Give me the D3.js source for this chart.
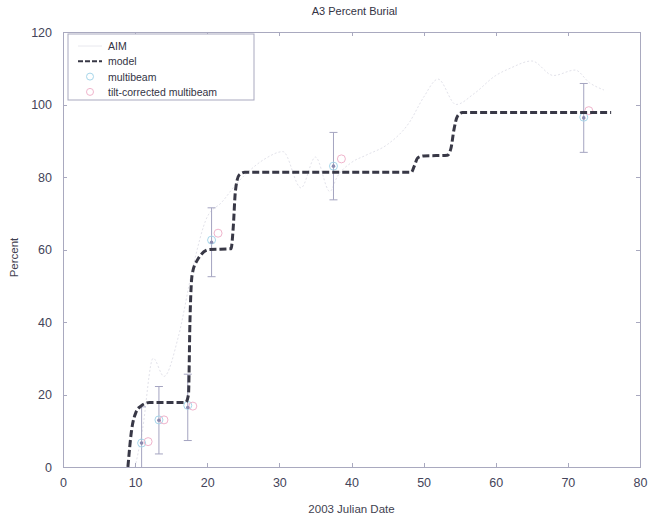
<!DOCTYPE html>
<html lang="en">
<head>
    <meta charset="UTF-8">
    <title>A3 Percent Burial</title>
    <script src="https://d3js.org/d3.v7.min.js"></script>
    <style>
        *{ margin: 0; padding: 0; }
        body{ background: #fff; }
        .axis path, .axis line{
            fill: none;
            stroke: #a9a9bf;
            shape-rendering: crispEdges;
        }
        .axis text{
            font-family: "Liberation Sans", Arial, sans-serif;
            font-size: 12.5px;
            fill: #44445a;
        }
    </style>
</head>
<body>
    <div id="content"></div>
    <script>
        // model curve (dashed)
        var modelX = [9, 9.5, 10.1, 10.8, 12, 17, 17.4, 17.6, 17.9, 18.6, 20.3, 23.3, 23.6, 23.9, 24.4, 25.2, 48.3, 48.7, 49.2, 50, 53.3, 53.8, 54.2, 54.7, 55.4, 76];
        var modelY = [0, 10, 15, 16.8, 17.8, 17.8, 20, 40, 53, 57, 60, 60.2, 66, 76, 80.5, 81.3, 81.3, 83, 85.3, 85.8, 86, 88, 93, 96.8, 97.8, 97.8];

        // AIM curve (faint)
        var aimX = [10, 11, 12.5, 14, 16, 18, 20, 22, 24, 26, 28, 30.5, 33, 35, 37, 38, 40, 42, 45, 48, 50, 52, 54.5, 57, 60, 62, 65, 68, 71, 73, 75];
        var aimY = [0, 10, 30, 25, 36, 55, 69, 73, 78, 82, 85, 87, 77, 85.5, 76, 80, 84, 86, 89, 95, 102, 107, 100, 103, 108, 110, 112, 108, 109.5, 106, 104];

        // measurements with error bars
        var obsX    = [10.9, 13.3, 17.3, 20.6, 37.5, 72.2];
        var obsMid  = [6.6, 12.9, 16.4, 62, 83, 96.3];
        var obsLow  = [-3.4, 3.6, 7.3, 52.5, 73.7, 86.8];
        var obsHigh = [16.6, 22.2, 25.6, 71.5, 92.3, 105.8];
        var multiY  = [6.6, 13, 17, 62.6, 83, 96.5];
        var tiltX   = [11.8, 14, 18, 21.5, 38.6, 72.9];
        var tiltY   = [7, 13, 16.8, 64.5, 85, 98.3];

        var xTicks = [0, 10, 20, 30, 40, 50, 60, 70, 80];
        var yTicks = [0, 20, 40, 60, 80, 100, 120];
        var legendLabels = ["AIM", "model", "multibeam", "tilt-corrected multibeam"];

        var width = 652, height = 518;
        var padding = {top: 32, right: 12, bottom: 51, left: 63};

        var svg = d3.select("#content").append("svg")
                .attr("width", width).attr("height", height)
                .style("font-family", "Liberation Sans, Arial, sans-serif");

        var xScale = d3.scaleLinear().domain([0, 80]).range([padding.left, width - padding.right]);
        var yScale = d3.scaleLinear().domain([0, 120]).range([height - padding.bottom, padding.top]);

        svg.append("clipPath").attr("id", "plot")
                .append("rect")
                .attr("x", xScale(0)).attr("y", yScale(120))
                .attr("width", xScale(80) - xScale(0))
                .attr("height", yScale(0) - yScale(120));

        /* axes, matlab style box */
        function drawAxes(){
            svg.append("g").attr("class", "axis")
                .attr("transform", "translate(0," + yScale(0) + ")")
                .call(d3.axisBottom(xScale).tickValues(xTicks).tickSizeInner(-4).tickSizeOuter(0).tickPadding(11));
            svg.append("g").attr("class", "axis")
                .attr("transform", "translate(" + xScale(0) + ",0)")
                .call(d3.axisLeft(yScale).tickValues(yTicks).tickSizeInner(-4).tickSizeOuter(0).tickPadding(11));
            svg.append("g").attr("class", "axis")
                .attr("transform", "translate(0," + yScale(120) + ")")
                .call(d3.axisTop(xScale).tickValues(xTicks).tickSizeInner(-4).tickSizeOuter(0).tickFormat(""));
            svg.append("g").attr("class", "axis")
                .attr("transform", "translate(" + xScale(80) + ",0)")
                .call(d3.axisRight(yScale).tickValues(yTicks).tickSizeInner(-4).tickSizeOuter(0).tickFormat(""));

            svg.append("text")
                .attr("x", (xScale(0) + xScale(80)) / 2 + 3).attr("y", 15)
                .attr("text-anchor", "middle")
                .attr("font-size", 11).attr("fill", "#333344")
                .text("A3 Percent Burial");
            svg.append("text")
                .attr("x", (xScale(0) + xScale(80)) / 2).attr("y", height - 5)
                .attr("text-anchor", "middle")
                .attr("font-size", 11.5).attr("fill", "#3f3f50")
                .text("2003 Julian Date");
            svg.append("text")
                .attr("transform", "translate(18," + (yScale(60) + 8) + ") rotate(-90)")
                .attr("text-anchor", "middle")
                .attr("font-size", 11.5).attr("fill", "#3f3f50")
                .text("Percent");
        }

        function drawLines(){
            var g = svg.append("g").attr("clip-path", "url(#plot)");

            var line = d3.line()
                .x(function(d){ return xScale(d[0]); })
                .y(function(d){ return yScale(d[1]); })
                .curve(d3.curveMonotoneX);

            g.append("path")
                .attr("d", line(d3.zip(aimX, aimY)))
                .attr("fill", "none")
                .attr("stroke", "#e2e2ea")
                .attr("stroke-width", 1)
                .attr("stroke-dasharray", "2,2");

            // error bars
            obsX.forEach(function(x, i){
                var cx = xScale(x);
                g.append("line")
                    .attr("x1", cx).attr("x2", cx)
                    .attr("y1", yScale(obsLow[i])).attr("y2", yScale(obsHigh[i]))
                    .attr("stroke", "#a4a4c0").attr("stroke-width", 1);
                [obsLow[i], obsHigh[i]].forEach(function(v){
                    g.append("line")
                        .attr("x1", cx - 4).attr("x2", cx + 4)
                        .attr("y1", yScale(v)).attr("y2", yScale(v))
                        .attr("stroke", "#a4a4c0").attr("stroke-width", 1);
                });
            });

            // markers
            obsX.forEach(function(x, i){
                g.append("circle")
                    .attr("cx", xScale(x)).attr("cy", yScale(multiY[i])).attr("r", 4)
                    .attr("fill", "none").attr("stroke", "#a6d6ea").attr("stroke-width", 1);
                g.append("circle")
                    .attr("cx", xScale(tiltX[i])).attr("cy", yScale(tiltY[i])).attr("r", 4)
                    .attr("fill", "none").attr("stroke", "#f0b4cc").attr("stroke-width", 1);
                g.append("circle")
                    .attr("cx", xScale(x)).attr("cy", yScale(obsMid[i])).attr("r", 1.8)
                    .attr("fill", "#8a8ab0");
            });

            g.append("path")
                .attr("d", line(d3.zip(modelX, modelY)))
                .attr("fill", "none")
                .attr("stroke", "#383846")
                .attr("stroke-width", 3)
                .attr("stroke-dasharray", "7,3");
        }

        function drawLegend(){
            var lx = 68, ly = 34, lw = 186, lh = 66;
            var lg = svg.append("g");
            lg.append("rect")
                .attr("x", lx).attr("y", ly).attr("width", lw).attr("height", lh)
                .attr("fill", "#fff").attr("stroke", "#a9a9bf").attr("stroke-width", 1);
            legendLabels.forEach(function(t, i){
                var y = ly + 12 + i * 15.3;
                lg.append("text")
                    .attr("x", lx + 40).attr("y", y + 4)
                    .attr("font-size", 10.5).attr("fill", "#333344")
                    .text(t);
                if(i == 0){
                    lg.append("line").attr("x1", lx + 10).attr("x2", lx + 34)
                        .attr("y1", y).attr("y2", y)
                        .attr("stroke", "#e8e8ee").attr("stroke-width", 1);
                } else if(i == 1){
                    lg.append("line").attr("x1", lx + 10).attr("x2", lx + 34)
                        .attr("y1", y).attr("y2", y)
                        .attr("stroke", "#383846").attr("stroke-width", 2)
                        .attr("stroke-dasharray", "5,2");
                } else {
                    lg.append("circle").attr("cx", lx + 22).attr("cy", y).attr("r", 3.5)
                        .attr("fill", "none")
                        .attr("stroke", i == 2 ? "#a6d6ea" : "#f0b4cc");
                }
            });
        }

        drawLines();
        drawAxes();
        drawLegend();
    </script>
</body>
</html>
